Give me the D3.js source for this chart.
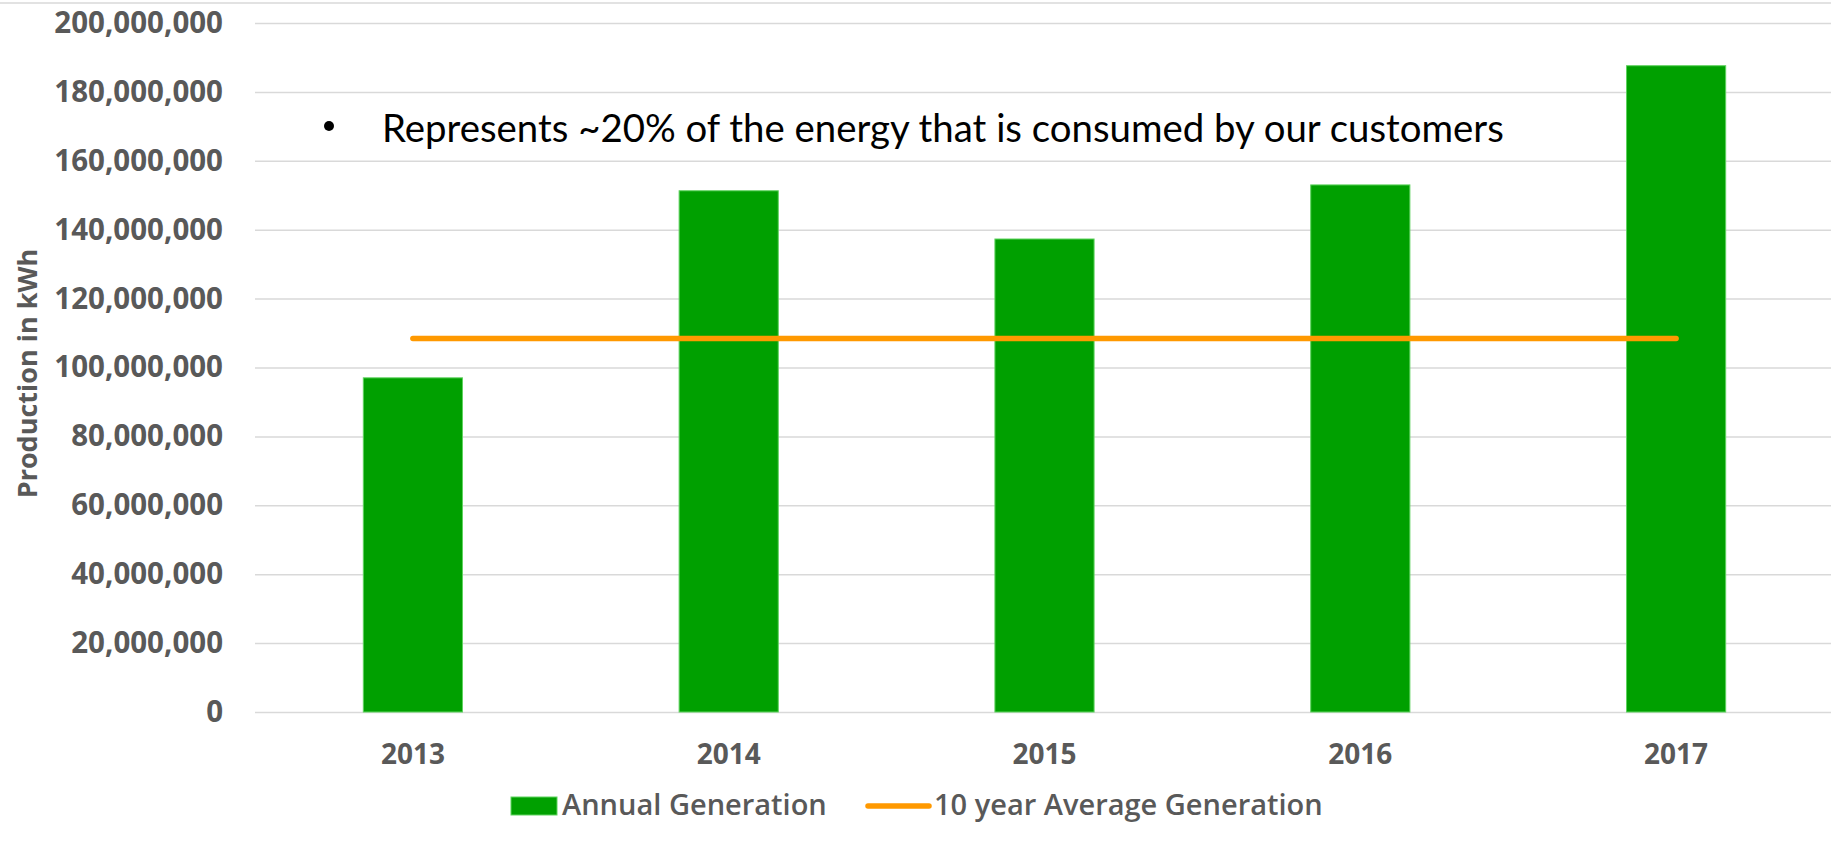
<!DOCTYPE html>
<html>
<head>
<meta charset="utf-8">
<script src="https://cdn.jsdelivr.net/npm/d3@7"></script>
<style>
  body { margin: 0; background: #fff; }
  svg { display: block; }
</style>
</head>
<body>
<div id="chart"></div>
<script>
// data
var years = ["2013", "2014", "2015", "2016", "2017"];
var annualGeneration = [97000000, 151300000, 137300000, 153000000, 187600000];
var tenYearAverage = [108400000, 108400000, 108400000, 108400000, 108400000];
var yTicks = [0, 20000000, 40000000, 60000000, 80000000, 100000000,
              120000000, 140000000, 160000000, 180000000, 200000000];
var noteText = "Represents ~20% of the energy that is consumed by our customers";

var W = 1831, H = 843,
    margin = { top: 23, left: 255, bottom: 712 },
    grey = "#595959",
    font = "'Open Sans', sans-serif";

var svg = d3.select("#chart")
    .append("svg")
    .attr("width", W)
    .attr("height", H);

// faint frame line at the very top
svg.append("line")
    .attr("x1", 0).attr("x2", W)
    .attr("y1", 3).attr("y2", 3)
    .attr("stroke", "#d9d9d9")
    .attr("stroke-width", 1.5);

var x = d3.scaleBand()
    .domain(years)
    .range([margin.left, 1834])
    .paddingInner(0.686)
    .paddingOuter(0.343);

var y = d3.scaleLinear()
    .domain([0, 200000000])
    .range([margin.bottom, margin.top]);

// y gridlines + labels
var yAxis = svg.append("g")
    .attr("transform", "translate(" + margin.left + ",0)")
    .call(d3.axisLeft(y)
        .tickValues(yTicks)
        .tickSize(-(W - margin.left))
        .tickPadding(32)
        .tickFormat(d3.format(",")));
yAxis.select(".domain").remove();
yAxis.selectAll(".tick line")
    .attr("stroke", "#d9d9d9")
    .attr("stroke-width", 1.5);
yAxis.selectAll(".tick text")
    .attr("fill", grey)
    .style("font-family", font)
    .style("font-weight", 700)
    .style("font-size", "29.5px");

// x labels
var xAxis = svg.append("g")
    .attr("transform", "translate(0," + margin.bottom + ")")
    .call(d3.axisBottom(x).tickSize(0).tickPadding(32));
xAxis.select(".domain").remove();
xAxis.selectAll(".tick text")
    .attr("fill", grey)
    .style("font-family", font)
    .style("font-weight", 700)
    .style("font-size", "28px");

// y title
svg.append("text")
    .attr("transform", "translate(37," + ((margin.top + margin.bottom) / 2 + 6) + ") rotate(-90)")
    .attr("text-anchor", "middle")
    .attr("fill", grey)
    .style("font-family", font)
    .style("font-weight", 700)
    .style("font-size", "27px")
    .text("Production in kWh");

// bars
svg.append("g")
    .selectAll("rect")
    .data(years)
    .enter()
    .append("rect")
    .attr("x", function (d) { return x(d); })
    .attr("width", x.bandwidth())
    .attr("y", function (d, i) { return y(annualGeneration[i]); })
    .attr("height", function (d, i) { return y(0) - y(annualGeneration[i]); })
    .attr("fill", "#00a000")
    .attr("stroke", "#5fd35f")
    .attr("stroke-width", 1);

// 10 year average line
svg.append("path")
    .datum(years)
    .attr("fill", "none")
    .attr("stroke", "#ff9900")
    .attr("stroke-width", 5.5)
    .attr("stroke-linecap", "round")
    .attr("d", d3.line()
        .x(function (d) { return x(d) + x.bandwidth() / 2; })
        .y(function (d, i) { return y(tenYearAverage[i]); }));

// bullet note
svg.append("circle")
    .attr("cx", 329).attr("cy", 126).attr("r", 5)
    .attr("fill", "#000");
var note = svg.append("text")
    .attr("x", 382).attr("y", 142)
    .attr("fill", "#000")
    .style("font-family", "Lato, sans-serif")
    .style("font-size", "36px")
    .text(noteText);
// fit the note to the width it has in the picture
var nw = note.node().getComputedTextLength();
note.style("font-size", (36 * 1122 / nw) + "px");

// legend
var legend = svg.append("g");
legend.append("rect")
    .attr("x", 511).attr("y", 797)
    .attr("width", 46).attr("height", 18)
    .attr("fill", "#00a000")
    .attr("stroke", "#5fd35f");
legend.append("text")
    .attr("x", 562).attr("y", 815)
    .attr("fill", grey)
    .style("font-family", font)
    .style("font-weight", 600)
    .style("font-size", "29px")
    .text("Annual Generation");
legend.append("line")
    .attr("x1", 868).attr("x2", 929)
    .attr("y1", 806).attr("y2", 806)
    .attr("stroke", "#ff9900")
    .attr("stroke-width", 5.5)
    .attr("stroke-linecap", "round");
legend.append("text")
    .attr("x", 934).attr("y", 815)
    .attr("fill", grey)
    .style("font-family", font)
    .style("font-weight", 600)
    .style("font-size", "29px")
    .text("10 year Average Generation");
</script>
</body>
</html>
